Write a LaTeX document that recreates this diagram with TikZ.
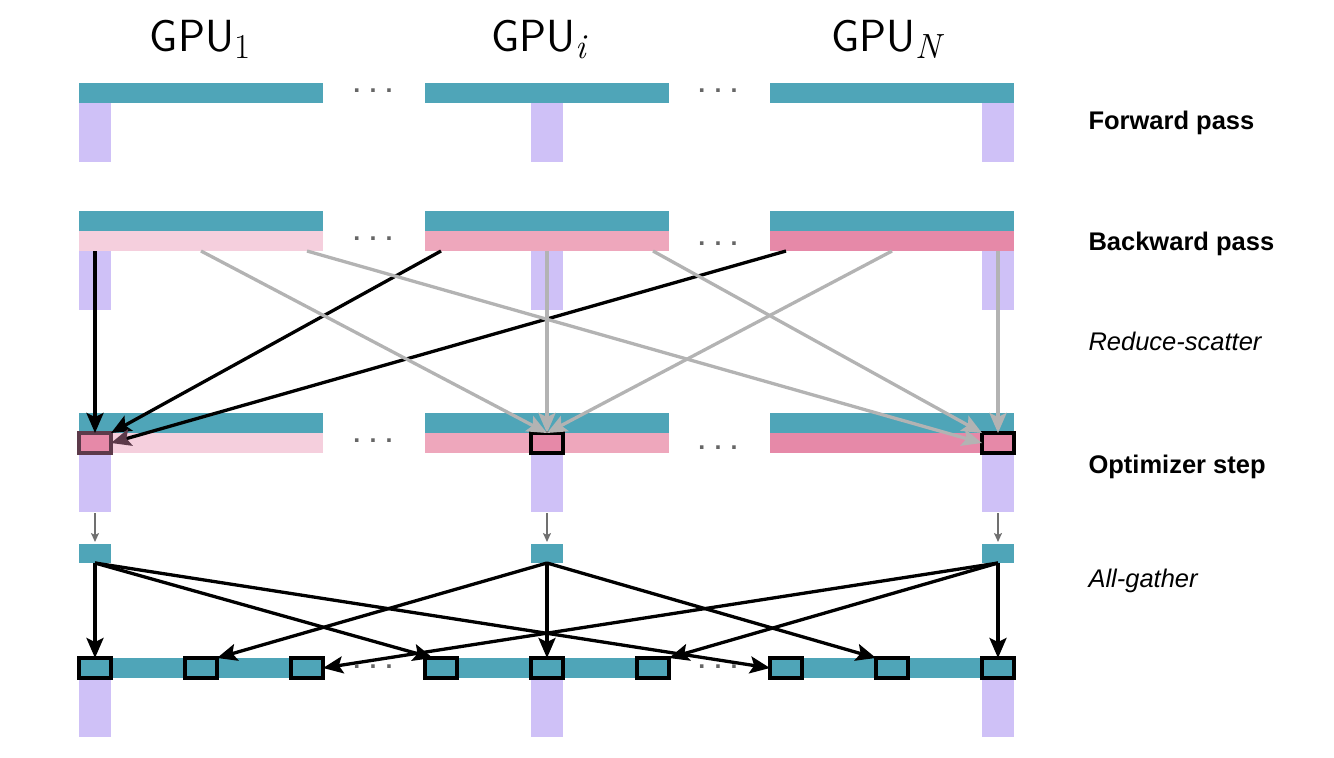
\documentclass[tikz,border=0pt]{standalone}
\usepackage{fontspec}
\usepackage{tikz}
\usetikzlibrary{arrows.meta}

\newfontfamily\arialfont{Liberation Sans}
\newfontfamily\gpufont{lmsans17-regular.otf}
\newcommand{\gpusub}[1]{\raisebox{-7pt}{\rmfamily\fontsize{35}{36}\selectfont #1}}

\begin{document}
\begin{tikzpicture}[x=1pt, y=-1pt,
        bar/.style={rectangle, inner sep=0pt, outer sep=0pt, minimum width=244pt, minimum height=20pt, anchor=north west},
        mem/.style={rectangle, inner sep=0pt, outer sep=0pt, fill=memviolet, minimum width=32pt, minimum height=59pt, anchor=north west},
        shard/.style={rectangle, inner sep=0pt, outer sep=0pt, draw=black, line width=3.2pt, minimum width=32pt, minimum height=20pt, anchor=north west},
        piece/.style={rectangle, inner sep=0pt, outer sep=0pt, fill=paramteal, minimum width=32pt, minimum height=19pt, anchor=north west},
        gpulabel/.style={anchor=base, font=\gpufont\fontsize{45}{50}\selectfont},
        stage/.style={anchor=base west, font=\arialfont\bfseries\fontsize{25.5}{30}\selectfont},
        comm/.style={anchor=base west, font=\arialfont\itshape\fontsize{25.5}{30}\selectfont},
        dots/.style={inner sep=0pt, text=dotgray, font=\arialfont\bfseries\fontsize{25}{25}\selectfont},
        push/.style={line width=3.3pt, -{Stealth[length=20pt, width=17pt, inset=4pt]}},
        pushgray/.style={push, draw=arrowgray},
        local/.style={draw=localgray, line width=1.8pt, -{Stealth[length=9pt, width=8pt, inset=2pt]}, shorten <=1pt, shorten >=2pt}]
        \definecolor{paramteal}{HTML}{4FA5B8}
        \definecolor{memviolet}{HTML}{CFC1F7}
        \definecolor{gradlight}{HTML}{F5CFDD}
        \definecolor{gradmid}{HTML}{EEA7BC}
        \definecolor{graddark}{HTML}{E689A8}
        \definecolor{arrowgray}{HTML}{B3B3B3}
        \definecolor{localgray}{HTML}{707070}
        \definecolor{dotgray}{HTML}{666666}
        \definecolor{boxmaroon}{HTML}{5C3A4A}
        \useasboundingbox (0,0) rectangle (1334,758);

        % GPU labels
        \node[gpulabel] (gpu1) at (200,51) {GPU\gpusub{1}};
        \node[gpulabel] (gpui) at (539,51) {GPU\gpusub{\itshape i}};
        \node[gpulabel] (gpuN) at (886,51) {GPU\gpusub{\itshape N}};

        % Forward pass
        \node[bar, fill=paramteal] (f1) at (79,83) {};
        \node[bar, fill=paramteal] (fi) at (425,83) {};
        \node[bar, fill=paramteal] (fN) at (770,83) {};
        \node[mem] (fm1) at (79,103) {};
        \node[mem] (fmi) at (531,103) {};
        \node[mem] (fmN) at (982,103) {};

        % Backward pass
        \node[bar, fill=paramteal] (b1) at (79,211) {};
        \node[bar, fill=paramteal] (bi) at (425,211) {};
        \node[bar, fill=paramteal] (bN) at (770,211) {};
        \node[bar, fill=gradlight] (g1) at (79,231) {};
        \node[bar, fill=gradmid] (gi) at (425,231) {};
        \node[bar, fill=graddark] (gN) at (770,231) {};
        \node[mem] (bm1) at (79,251) {};
        \node[mem] (bmi) at (531,251) {};
        \node[mem] (bmN) at (982,251) {};

        % Optimizer step
        \node[bar, fill=paramteal] (p1) at (79,413) {};
        \node[bar, fill=paramteal] (pi) at (425,413) {};
        \node[bar, fill=paramteal] (pN) at (770,413) {};
        \node[bar, fill=gradlight] (h1) at (79,433) {};
        \node[bar, fill=gradmid] (hi) at (425,433) {};
        \node[bar, fill=graddark] (hN) at (770,433) {};
        \node[mem] (om1) at (79,453) {};
        \node[mem] (omi) at (531,453) {};
        \node[mem] (omN) at (982,453) {};
        \node[shard, fill=graddark, draw=boxmaroon] (o1) at (79,433) {};
        \node[shard, fill=graddark] (oi) at (531,433) {};
        \node[shard, fill=graddark] (oN) at (982,433) {};

        % Updated shards
        \node[piece] (s1) at (79,544) {};
        \node[piece] (si) at (531,544) {};
        \node[piece] (sN) at (982,544) {};
        \draw[local] (om1.south) -- (s1.north);
        \draw[local] (omi.south) -- (si.north);
        \draw[local] (omN.south) -- (sN.north);

        % Gathered parameters
        \node[bar, fill=paramteal] (a1) at (79,658) {};
        \node[bar, fill=paramteal] (ai) at (425,658) {};
        \node[bar, fill=paramteal] (aN) at (770,658) {};
        \node[mem] (am1) at (79,678) {};
        \node[mem] (ami) at (531,678) {};
        \node[mem] (amN) at (982,678) {};
        \node[shard, fill=paramteal] (c11) at (79,658) {};
        \node[shard, fill=paramteal] (c12) at (185,658) {};
        \node[shard, fill=paramteal] (c13) at (291,658) {};
        \node[shard, fill=paramteal] (ci1) at (425,658) {};
        \node[shard, fill=paramteal] (ci2) at (531,658) {};
        \node[shard, fill=paramteal] (ci3) at (637,658) {};
        \node[shard, fill=paramteal] (cN1) at (770,658) {};
        \node[shard, fill=paramteal] (cN2) at (876,658) {};
        \node[shard, fill=paramteal] (cN3) at (982,658) {};

        % Reduce-scatter
        \draw[push] ([xshift=16pt]g1.south west) -- (o1.north);
        \draw[push] ([xshift=16pt]gi.south west) -- (o1.north east);
        \draw[push, -{Stealth[length=20pt, width=17pt, inset=4pt, color=boxmaroon]}] ([xshift=16pt]gN.south west) -- (o1.east);
        \draw[pushgray] ([xshift=122pt]g1.south west) -- (oi.north);
        \draw[pushgray] ([xshift=122pt]gi.south west) -- (oi.north);
        \draw[pushgray] ([xshift=122pt]gN.south west) -- (oi.north);
        \draw[pushgray] ([xshift=228pt]g1.south west) -- (oN.west);
        \draw[pushgray] ([xshift=228pt]gi.south west) -- (oN.north west);
        \draw[pushgray] ([xshift=228pt]gN.south west) -- (oN.north);

        % All-gather
        \draw[push] (s1.south) -- (c11.north);
        \draw[push] (s1.south) -- ([xshift=8pt]ci1.north west);
        \draw[push] (s1.south) -- (cN1.west);
        \draw[push] (si.south) -- (c12.north east);
        \draw[push] (si.south) -- (ci2.north);
        \draw[push] (si.south) -- (cN2.north west);
        \draw[push] (sN.south) -- (c13.east);
        \draw[push] (sN.south) -- (ci3.north east);
        \draw[push] (sN.south) -- (cN3.north);

        % Dots between GPUs
        \node[dots] (d11) at (373,91) {. . .};
        \node[dots] (d12) at (718,91) {. . .};
        \node[dots] (d21) at (373,239) {. . .};
        \node[dots] (d22) at (718,244) {. . .};
        \node[dots] (d31) at (373,441) {. . .};
        \node[dots] (d32) at (718,448) {. . .};
        \node[dots] (d41) at (373,667) {. . .};
        \node[dots] (d42) at (718,667) {. . .};

        % Stage labels
        \node[stage] (fwd) at (1085,129) {Forward pass};
        \node[stage] (bwd) at (1085,250) {Backward pass};
        \node[comm] (rs) at (1085,350) {Reduce-scatter};
        \node[stage] (opt) at (1085,473) {Optimizer step};
        \node[comm] (ag) at (1085,587) {All-gather};
    \end{tikzpicture}
\end{document}
